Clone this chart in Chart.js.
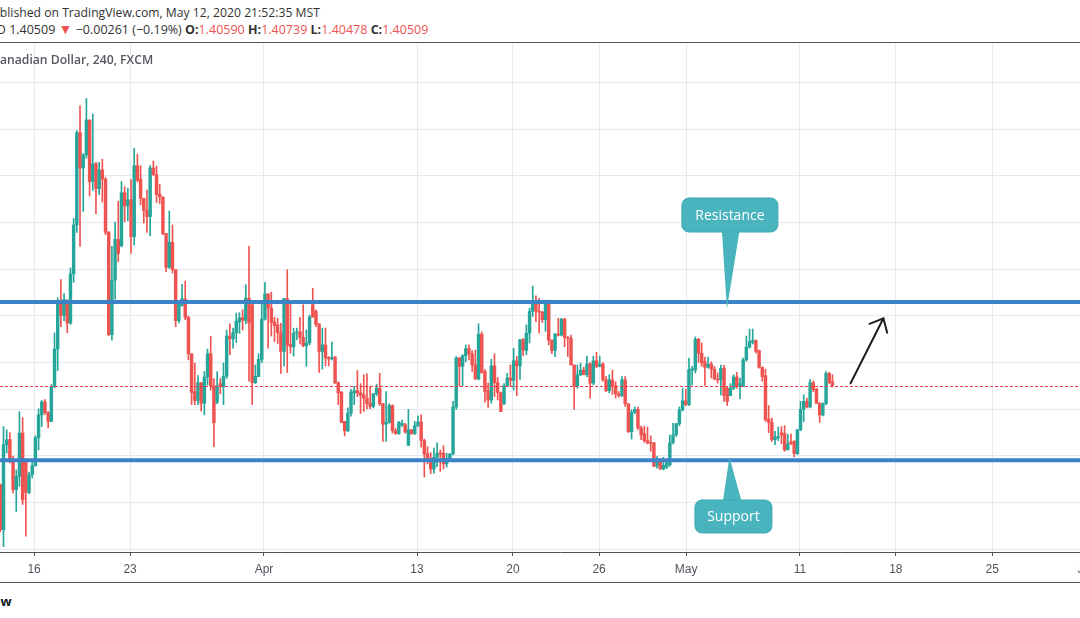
<!DOCTYPE html>
<html>
<head>
<meta charset="utf-8">
<title>USDCAD 240</title>
<script src="https://cdn.jsdelivr.net/npm/chart.js@4.4.0/dist/chart.umd.min.js"></script>
<style>
  html, body { margin: 0; padding: 0; background: #fff; }
  body { width: 1080px; height: 618px; overflow: hidden; position: relative; font-family: "Open Sans", sans-serif; }
  #wrap { position: absolute; left: 0; top: 43px; width: 1120px; height: 540px; }
  .txt { position: absolute; white-space: nowrap; font-size: 12px; color: #333; line-height: 16px; }
  .rule { position: absolute; left: 0; width: 1080px; height: 1px; background: #50535e; }
  .red { color: #ef5350; }
  .tri { color: #ef5350; font-size: 14px; }
  b { color: #333; }
</style>
</head>
<body>
<div class="txt" style="top:5px;font-size:12.2px;"><span class="cut">Pu</span>blished on TradingView.com, May 12, 2020 21:52:35 MST</div>
<div class="txt" style="top:21px;font-size:12.5px;" data-shift="3"><span class="cut">USDCA</span>D 1.40509 <span class="tri">▼</span> −0.00261 (−0.19%) <b>O:</b><span class="red">1.40590</span> <b>H:</b><span class="red">1.40739</span> <b>L:</b><span class="red">1.40478</span> <b>C:</b><span class="red">1.40509</span></div>
<div class="rule" style="top:42px;"></div>
<div id="wrap"><canvas id="chart" width="1120" height="540"></canvas></div>
<div class="txt" style="top:52px;font-weight:600;color:#55585f;font-size:12.2px;"><span class="cut">U.S. Dollar / C</span>anadian Dollar, 240, FXCM</div>
<div class="rule" style="top:582px;"></div>
<div class="txt" style="top:593px;font-weight:700;color:#131722;font-size:13px;"><span class="cut">TradingVie</span>w</div>
<script>
// 4h candles, USDCAD (FXCM), Mar 12 - May 12 2020
const opens = [
  1.3838,1.3742,1.3924,1.3935,1.3892,1.3828,1.3856,1.3949,1.3888,1.3822,
  1.3860,1.3879,1.3939,1.3988,1.4016,1.3993,1.3974,1.4049,1.4129,1.4232,
  1.4201,1.4234,1.4185,1.4290,1.4395,1.4593,1.4517,1.4545,1.4620,1.4488,
  1.4526,1.4473,1.4513,1.4493,1.4379,1.4160,1.4277,1.4364,1.4350,1.4464,
  1.4436,1.4449,1.4370,1.4522,1.4493,1.4452,1.4426,1.4413,1.4517,1.4503,
  1.4461,1.4455,1.4377,1.4304,1.4358,1.4299,1.4190,1.4222,1.4236,1.4197,
  1.4119,1.4038,1.4019,1.4057,1.4013,1.4069,1.4119,1.4050,1.4015,1.4055,
  1.4049,1.4071,1.4157,1.4151,1.4164,1.4187,1.4196,1.4190,1.4238,1.4224,
  1.4057,1.4070,1.4107,1.4193,1.4247,1.4217,1.4187,1.4181,1.4164,1.4124,
  1.4237,1.4139,1.4134,1.4163,1.4166,1.4154,1.4136,1.4142,1.4224,1.4210,
  1.4183,1.4124,1.4138,1.4111,1.4108,1.4112,1.4057,1.4037,1.3974,1.3954,
  1.3992,1.4035,1.4040,1.4035,1.4031,1.4024,1.4013,1.4006,1.4033,1.4045,
  1.4012,1.3968,1.3972,1.4008,1.3954,1.3948,1.3966,1.3967,1.3923,1.3956,
  1.3948,1.3965,1.3973,1.3933,1.3905,1.3895,1.3872,1.3897,1.3906,1.3906,
  1.3883,1.3895,1.3904,1.4005,1.4110,1.4092,1.4115,1.4130,1.4119,1.4095,
  1.4065,1.4161,1.4081,1.4040,1.4020,1.4093,1.4057,1.4036,1.4012,1.4050,
  1.4067,1.4062,1.4104,1.4093,1.4149,1.4126,1.4163,1.4210,1.4229,1.4210,
  1.4208,1.4192,1.4233,1.4148,1.4126,1.4161,1.4159,1.4193,1.4154,1.4152,
  1.4095,1.4050,1.4074,1.4084,1.4074,1.4097,1.4056,1.4104,1.4092,1.4097,
  1.4063,1.4040,1.4063,1.4050,1.4033,1.4029,1.4063,1.4012,1.3952,1.3993,
  1.4000,1.3960,1.3948,1.3933,1.3929,1.3928,1.3878,1.3892,1.3872,1.3876,
  1.3881,1.3928,1.3945,1.3969,1.3999,1.4018,1.4010,1.4084,1.4084,1.4150,
  1.4120,1.4102,1.4090,1.4097,1.4086,1.4065,1.4063,1.4088,1.4045,1.4029,
  1.4045,1.4069,1.4049,1.4049,1.4106,1.4133,1.4144,1.4147,1.4126,1.4090,
  1.4072,1.3979,1.3972,1.3935,1.3939,1.3950,1.3948,1.3913,1.3930,1.3931,
  1.3905,1.3956,1.4000,1.4017,1.4005,1.4057,1.4043,1.4013,1.3988,1.4012,
  1.4077,1.4059
];
const highs = [
  1.3840,1.3963,1.3956,1.3950,1.3900,1.3870,1.3995,1.3982,1.3888,1.3865,
  1.3893,1.3943,1.4001,1.4019,1.4021,1.3995,1.4053,1.4164,1.4239,1.4278,
  1.4248,1.4234,1.4303,1.4409,1.4597,1.4650,1.4548,1.4666,1.4620,1.4633,
  1.4529,1.4529,1.4536,1.4497,1.4381,1.4349,1.4401,1.4446,1.4488,1.4477,
  1.4474,1.4492,1.4559,1.4547,1.4522,1.4452,1.4470,1.4522,1.4532,1.4521,
  1.4482,1.4455,1.4377,1.4425,1.4395,1.4299,1.4233,1.4268,1.4275,1.4200,
  1.4119,1.4099,1.4072,1.4057,1.4081,1.4129,1.4156,1.4066,1.4081,1.4066,
  1.4099,1.4170,1.4183,1.4174,1.4206,1.4207,1.4213,1.4267,1.4349,1.4226,
  1.4095,1.4119,1.4232,1.4272,1.4248,1.4251,1.4197,1.4195,1.4184,1.4238,
  1.4299,1.4227,1.4174,1.4174,1.4197,1.4224,1.4170,1.4202,1.4259,1.4213,
  1.4183,1.4174,1.4174,1.4113,1.4144,1.4113,1.4059,1.4038,1.3974,1.4003,
  1.4043,1.4049,1.4083,1.4055,1.4074,1.4076,1.4049,1.4034,1.4054,1.4077,
  1.4013,1.4038,1.4012,1.4010,1.3959,1.3974,1.3977,1.3970,1.4000,1.3957,
  1.3974,1.3986,1.3988,1.3936,1.3920,1.3907,1.3917,1.3928,1.3913,1.3922,
  1.3906,1.3905,1.4017,1.4113,1.4111,1.4117,1.4138,1.4138,1.4126,1.4127,
  1.4183,1.4166,1.4085,1.4056,1.4107,1.4119,1.4068,1.4037,1.4055,1.4077,
  1.4095,1.4131,1.4113,1.4150,1.4152,1.4181,1.4217,1.4264,1.4243,1.4238,
  1.4210,1.4234,1.4234,1.4149,1.4163,1.4195,1.4195,1.4195,1.4156,1.4159,
  1.4095,1.4095,1.4099,1.4090,1.4114,1.4100,1.4114,1.4122,1.4114,1.4100,
  1.4070,1.4074,1.4084,1.4059,1.4038,1.4070,1.4070,1.4012,1.3999,1.4005,
  1.4005,1.3964,1.3964,1.3962,1.3943,1.3929,1.3899,1.3895,1.3897,1.3890,
  1.3945,1.3970,1.3970,1.4005,1.4045,1.4043,1.4110,1.4092,1.4155,1.4152,
  1.4142,1.4112,1.4112,1.4102,1.4092,1.4078,1.4095,1.4095,1.4048,1.4055,
  1.4074,1.4079,1.4067,1.4110,1.4157,1.4172,1.4172,1.4149,1.4127,1.4091,
  1.4086,1.4008,1.3981,1.3953,1.3962,1.3963,1.3965,1.3946,1.3947,1.3933,
  1.3957,1.4017,1.4031,1.4024,1.4064,1.4061,1.4045,1.4014,1.4014,1.4081,
  1.4079,1.4074
];
const lows = [
  1.3738,1.3706,1.3906,1.3885,1.3821,1.3781,1.3835,1.3796,1.3728,1.3819,
  1.3853,1.3878,1.3913,1.3963,1.3989,1.3960,1.3974,1.4046,1.4083,1.4177,
  1.4190,1.4164,1.4182,1.4272,1.4379,1.4349,1.4424,1.4538,1.4457,1.4469,
  1.4419,1.4460,1.4444,1.4374,1.4158,1.4148,1.4236,1.4316,1.4348,1.4402,
  1.4404,1.4334,1.4352,1.4487,1.4438,1.4399,1.4379,1.4372,1.4501,1.4443,
  1.4441,1.4374,1.4295,1.4302,1.4292,1.4177,1.4185,1.4221,1.4192,1.4106,
  1.4010,1.4010,1.4010,1.3996,1.3988,1.4052,1.4041,1.3920,1.4012,1.4033,
  1.4010,1.4066,1.4117,1.4131,1.4143,1.4163,1.4170,1.4183,1.4060,1.4010,
  1.4055,1.4070,1.4100,1.4191,1.4131,1.4157,1.4145,1.4141,1.4077,1.4093,
  1.4079,1.4120,1.4114,1.4149,1.4140,1.4134,1.4092,1.4138,1.4197,1.4177,
  1.4079,1.4086,1.4093,1.4093,1.4106,1.4056,1.4010,1.3971,1.3943,1.3952,
  1.3985,1.4010,1.4027,1.3991,1.3995,1.4001,1.4001,1.4003,1.4029,1.4008,
  1.3931,1.3931,1.3970,1.3949,1.3946,1.3946,1.3963,1.3949,1.3922,1.3946,
  1.3946,1.3963,1.3919,1.3855,1.3883,1.3862,1.3863,1.3877,1.3867,1.3872,
  1.3876,1.3894,1.3902,1.4000,1.4050,1.4050,1.4102,1.4106,1.4081,1.4064,
  1.4063,1.4077,1.4015,1.4004,1.4013,1.4027,1.4020,1.3995,1.4010,1.4049,
  1.4049,1.4041,1.4029,1.4064,1.4115,1.4117,1.4142,1.4199,1.4188,1.4163,
  1.4186,1.4167,1.4138,1.4119,1.4113,1.4157,1.4157,1.4134,1.4113,1.4095,
  1.4000,1.4045,1.4072,1.4074,1.4070,1.4024,1.4052,1.4089,1.4091,1.4060,
  1.4038,1.4035,1.4032,1.4024,1.4026,1.4027,1.4006,1.3950,1.3936,1.3991,
  1.3957,1.3935,1.3929,1.3926,1.3910,1.3877,1.3874,1.3871,1.3870,1.3873,
  1.3878,1.3926,1.3942,1.3965,1.3996,1.4008,1.4008,1.4052,1.4078,1.4100,
  1.4092,1.4051,1.4088,1.4067,1.4063,1.4056,1.4031,1.4017,1.4008,1.4029,
  1.4042,1.4045,1.4022,1.4049,1.4103,1.4131,1.4140,1.4120,1.4088,1.4060,
  1.3974,1.3950,1.3931,1.3924,1.3933,1.3926,1.3910,1.3913,1.3924,1.3898,
  1.3903,1.3954,1.3974,1.4003,1.4003,1.4038,1.4012,1.3972,1.3986,1.4010,
  1.4055,1.4048
];
const closes = [
  1.3742,1.3924,1.3935,1.3892,1.3828,1.3856,1.3949,1.3806,1.3822,1.3860,
  1.3879,1.3939,1.3988,1.4016,1.3993,1.3974,1.4049,1.4129,1.4232,1.4201,
  1.4235,1.4185,1.4290,1.4395,1.4593,1.4517,1.4545,1.4620,1.4488,1.4526,
  1.4473,1.4513,1.4493,1.4379,1.4160,1.4277,1.4364,1.4334,1.4464,1.4436,
  1.4449,1.4370,1.4522,1.4491,1.4452,1.4426,1.4413,1.4517,1.4503,1.4460,
  1.4455,1.4376,1.4304,1.4358,1.4299,1.4190,1.4233,1.4237,1.4197,1.4119,
  1.4036,1.4019,1.4057,1.4013,1.4069,1.4119,1.4050,1.3971,1.4050,1.4050,
  1.4071,1.4157,1.4151,1.4164,1.4189,1.4196,1.4191,1.4238,1.4185,1.4057,
  1.4071,1.4107,1.4193,1.4247,1.4217,1.4186,1.4179,1.4164,1.4124,1.4237,
  1.4138,1.4134,1.4163,1.4166,1.4154,1.4136,1.4142,1.4198,1.4198,1.4182,
  1.4124,1.4138,1.4110,1.4108,1.4111,1.4056,1.4035,1.3972,1.3954,1.3992,
  1.4037,1.4040,1.4035,1.4030,1.4024,1.4012,1.4006,1.4033,1.4045,1.4012,
  1.3968,1.3972,1.4008,1.3954,1.3948,1.3972,1.3970,1.3951,1.3956,1.3948,
  1.3965,1.3973,1.3933,1.3904,1.3888,1.3872,1.3897,1.3906,1.3904,1.3883,
  1.3895,1.3904,1.4005,1.4110,1.4092,1.4115,1.4130,1.4119,1.4095,1.4065,
  1.4161,1.4079,1.4038,1.4020,1.4093,1.4057,1.4036,1.3995,1.4050,1.4067,
  1.4062,1.4104,1.4093,1.4149,1.4127,1.4163,1.4210,1.4229,1.4210,1.4208,
  1.4192,1.4233,1.4148,1.4126,1.4161,1.4159,1.4193,1.4154,1.4152,1.4095,
  1.4050,1.4074,1.4084,1.4074,1.4097,1.4056,1.4104,1.4092,1.4097,1.4063,
  1.4040,1.4063,1.4050,1.4033,1.4029,1.4063,1.4012,1.3952,1.3993,1.4000,
  1.3960,1.3945,1.3933,1.3928,1.3927,1.3878,1.3892,1.3872,1.3880,1.3885,
  1.3928,1.3945,1.3969,1.3999,1.4018,1.4010,1.4085,1.4087,1.4150,1.4120,
  1.4099,1.4090,1.4097,1.4086,1.4065,1.4063,1.4088,1.4029,1.4017,1.4045,
  1.4069,1.4050,1.4055,1.4106,1.4133,1.4145,1.4148,1.4124,1.4090,1.4070,
  1.3978,1.3972,1.3935,1.3941,1.3941,1.3945,1.3913,1.3926,1.3926,1.3905,
  1.3956,1.4000,1.4017,1.4005,1.4057,1.4042,1.4013,1.3988,1.4012,1.4077,
  1.4057,1.4051
];

// time axis labels, placed at candle index
const tickLabels = ['16', '23', 'Apr', '13', '20', '26', 'May', '11', '18', '25', 'Jun'];
const tickIndex = [10.6, 40.7, 82.7, 130.7, 160.8, 187.8, 215.1, 250.8, 280.9, 311.1, 340.9];
const priceGrid = [1.37, 1.38, 1.39, 1.40, 1.41, 1.42, 1.43, 1.44, 1.45, 1.46, 1.47];

// drawings
const resistance = 1.4230;
const support = 1.3891;
const lastPrice = 1.40509;
const arrowFrom = { i: 266.7, p: 1.40557 };
const arrowTo = { i: 277.0, p: 1.41950 };
const resistanceTip = { i: 227.9, p: 1.42149 };
const supportTip = { i: 228.7, p: 1.38978 };

const upColor = '#26a69a';
const downColor = '#ef5350';
const candleColors = closes.map((c, i) => c >= opens[i] ? upColor : downColor);
const bodies = opens.map((o, i) => ({ x: i, y: [o, closes[i]] }));
const wicks = lows.map((l, i) => ({ x: i, y: [l, highs[i]] }));

function roundRect(ctx, x, y, w, h, r) {
    ctx.beginPath();
    ctx.moveTo(x + r, y);
    ctx.arcTo(x + w, y, x + w, y + h, r);
    ctx.arcTo(x + w, y + h, x, y + h, r);
    ctx.arcTo(x, y + h, x, y, r);
    ctx.arcTo(x, y, x + w, y, r);
    ctx.closePath();
}

// callout box with a pointer to (tx, ty); box given relative to the tip
function callout(ctx, tx, ty, text, box, base) {
    ctx.fillStyle = '#4ab4be';
    ctx.beginPath();
    ctx.moveTo(tx + base[0], base[2] + ty);
    ctx.lineTo(tx + base[1], base[2] + ty);
    ctx.lineTo(tx, ty);
    ctx.closePath();
    ctx.fill();
    roundRect(ctx, tx + box[0], ty + box[2], box[1] - box[0], box[3] - box[2], 7);
    ctx.fill();
    ctx.strokeStyle = '#3ea8b3';
    ctx.lineWidth = 1;
    ctx.stroke();
    ctx.fillStyle = '#ffffff';
    ctx.font = '14px "Open Sans"';
    ctx.textAlign = 'center';
    ctx.textBaseline = 'middle';
    ctx.fillText(text, tx + (box[0] + box[1]) / 2, ty + (box[2] + box[3]) / 2 + 1);
}

const drawings = {
    id: 'drawings',
    afterDatasetsDraw(chart) {
        const { ctx, chartArea: a, scales: { x, y } } = chart;
        ctx.save();

        // last price, dotted red
        const py = Math.round(y.getPixelForValue(lastPrice)) + 0.5;
        ctx.strokeStyle = '#f23645';
        ctx.lineWidth = 1;
        ctx.setLineDash([3, 2]);
        ctx.beginPath();
        ctx.moveTo(a.left, py);
        ctx.lineTo(a.right, py);
        ctx.stroke();
        ctx.setLineDash([]);

        // support / resistance
        ctx.strokeStyle = '#3b82c6';
        ctx.lineWidth = 4;
        [resistance, support].forEach(v => {
            const ly = y.getPixelForValue(v);
            ctx.beginPath();
            ctx.moveTo(a.left, ly);
            ctx.lineTo(a.right, ly);
            ctx.stroke();
        });

        // arrow
        const x0 = x.getPixelForValue(arrowFrom.i), y0 = y.getPixelForValue(arrowFrom.p);
        const x1 = x.getPixelForValue(arrowTo.i), y1 = y.getPixelForValue(arrowTo.p);
        const ang = Math.atan2(y0 - y1, x0 - x1);
        ctx.strokeStyle = '#1e1e1e';
        ctx.lineWidth = 2;
        ctx.lineCap = 'round';
        ctx.beginPath();
        ctx.moveTo(x0, y0);
        ctx.lineTo(x1, y1);
        ctx.moveTo(x1 + 15 * Math.cos(ang + 0.72), y1 + 15 * Math.sin(ang + 0.72));
        ctx.lineTo(x1, y1);
        ctx.lineTo(x1 + 15 * Math.cos(ang - 0.72), y1 + 15 * Math.sin(ang - 0.72));
        ctx.stroke();

        callout(ctx, x.getPixelForValue(resistanceTip.i), y.getPixelForValue(resistanceTip.p),
            'Resistance', [-45, 51, -111, -77], [-5, 12.6, -78]);
        callout(ctx, x.getPixelForValue(supportTip.i), y.getPixelForValue(supportTip.p),
            'Support', [-34.5, 42.5, 43, 76], [-6.5, 12, 44]);

        ctx.restore();
    }
};

new Chart(document.getElementById('chart'), {
    type: 'bar',
    data: {
        datasets: [
            { data: bodies, backgroundColor: candleColors, barThickness: 2.8, minBarLength: 1, grouped: false, order: 0 },
            { data: wicks, backgroundColor: candleColors, barThickness: 1, grouped: false, order: 1 }
        ]
    },
    options: {
        responsive: false,
        animation: false,
        devicePixelRatio: 1,
        layout: { padding: 0 },
        plugins: { legend: { display: false }, tooltip: { enabled: false } },
        scales: {
            x: {
                type: 'linear',
                min: -0.1,
                max: 351.2,
                offset: false,
                grid: { color: '#e3eaf1', offset: false, tickColor: '#50535e', tickLength: 4 },
                border: { display: true, color: '#50535e', width: 1 },
                afterBuildTicks: s => { s.ticks = tickIndex.map(v => ({ value: v })); },
                afterFit: s => { s.height = 31; },
                ticks: {
                    autoSkip: false,
                    maxRotation: 0,
                    padding: 6,
                    color: '#50535e',
                    font: { size: 12, family: 'Liberation Sans' },
                    callback: (v, i) => tickLabels[i]
                }
            },
            y: {
                min: 1.36942,
                max: 1.47849,
                grid: { color: '#e3eaf1', drawTicks: false },
                border: { display: false },
                ticks: { display: false },
                afterBuildTicks: s => { s.ticks = priceGrid.map(v => ({ value: v })); },
                afterFit: s => { s.width = 0; }
            }
        }
    },
    plugins: [drawings]
});

// shift header lines so the clipped part sits left of the window edge
document.querySelectorAll('.txt').forEach(el => {
    const cut = el.querySelector('.cut');
    const shift = Number(el.dataset.shift || 0);
    el.style.left = -(cut.offsetWidth + shift) + 'px';
});
</script>
</body>
</html>
